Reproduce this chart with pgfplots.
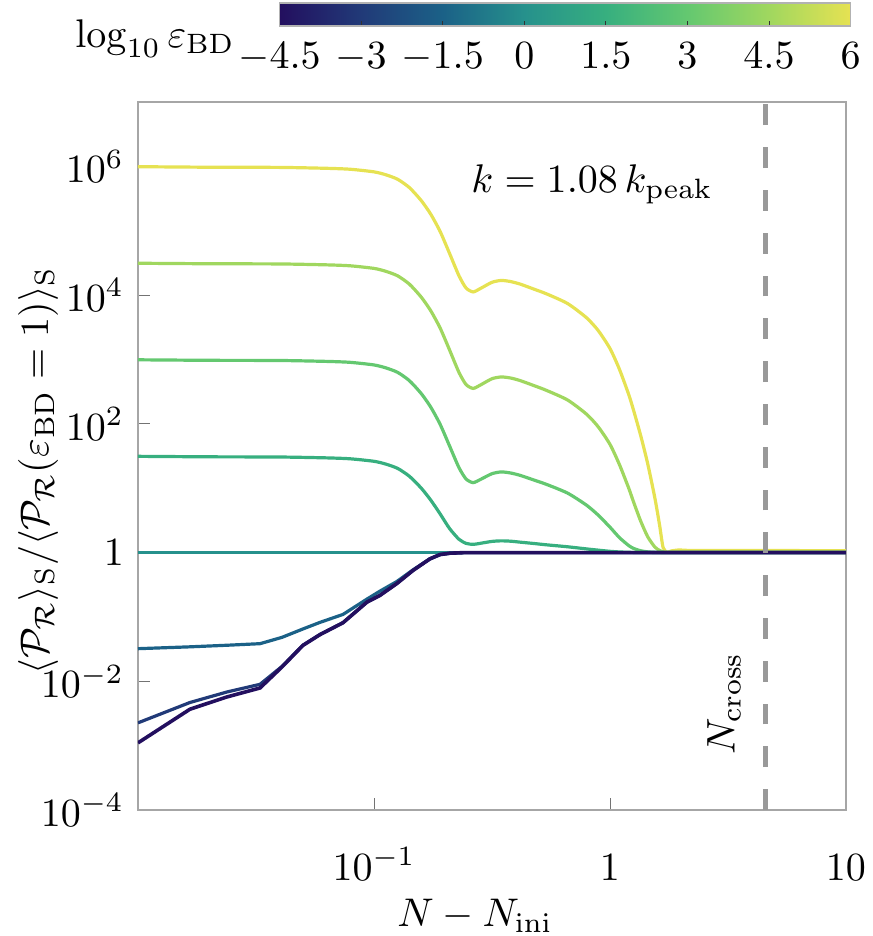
\documentclass[border=0pt]{standalone}
\usepackage{pgfplots}
\pgfplotsset{compat=1.18}
\usepackage{amsmath}
\usetikzlibrary{calc}

% colours of the curves, eps_BD = 10^-4.5 ... 10^6
\definecolor{c0}{RGB}{35,15,95}
\definecolor{c1}{RGB}{33,58,120}
\definecolor{c2}{RGB}{27,97,135}
\definecolor{c3}{RGB}{38,145,140}
\definecolor{c4}{RGB}{55,175,127}
\definecolor{c5}{RGB}{100,200,112}
\definecolor{c6}{RGB}{160,215,95}
\definecolor{c7}{RGB}{230,226,82}

\pgfplotsset{colormap={bgy}{rgb255=(35,15,95) rgb255=(33,58,120) rgb255=(27,97,135)
  rgb255=(38,145,140) rgb255=(55,175,127) rgb255=(100,200,112) rgb255=(160,215,95)
  rgb255=(230,226,82)}}

\begin{document}
\begin{tikzpicture}
\begin{axis}[
    name=main,
    scale only axis,
    width=177pt, height=177pt,
    xmode=log, ymode=log,
    xmin=0.01, xmax=10, ymin=1e-4, ymax=1e7,
    xtick={0.1,1,10},
    xticklabels={$10^{-1}$,$1$,$10$},
    ytick={1e-4,1e-2,1,1e2,1e4,1e6},
    yticklabels={$10^{-4}$,$10^{-2}$,$1$,$10^{2}$,$10^{4}$,$10^{6}$},
    xticklabel style={anchor=base, yshift=-17.5pt},
    minor tick style={draw=none},
    tick align=inside,
    tick pos=left,
    major tick length=3pt,
    major tick style={black!55},
    axis line style={black!35},
    clip mode=individual,
    xlabel={$N - N_{\mathrm{ini}}$},
    xlabel style={at={(axis description cs:0.476,-0.164)}, anchor=base},
    ylabel={$\langle\mathcal{P}_{\mathcal{R}}\rangle_{\mathrm{S}}/\langle\mathcal{P}_{\mathcal{R}}(\varepsilon_{\mathrm{BD}}=1)\rangle_{\mathrm{S}}$},
    ylabel style={at={(axis description cs:-0.141,0.48)}, anchor=center},
    colormap name=bgy,
    point meta min=-4.5, point meta max=6,
    colorbar horizontal,
    colorbar shift/.style={},
    colorbar style={
        at={(parent axis.north west)}, anchor=south west,
        xshift=35.4pt, yshift=19pt,
        width=142.75pt, height=5.75pt,
        xtick={-4.5,-3,-1.5,0,1.5,3,4.5,6},
        xtick pos=left,
        xtick align=inside,
        major tick length=1.3pt,
        major tick style={black!80},
        axis line style={black!30},
        xticklabel style={anchor=base, yshift=-10.65pt},
    },
]

% eps_BD = 10^6
\addplot[c7, line width=0.8pt, smooth, tension=0.4] coordinates {
(0.0100,9.89e5) (0.0200,9.70e5) (0.0398,9.64e5) (0.0631,9.33e5) (0.0794,9.02e5)
(0.1000,8.22e5) (0.1122,7.41e5) (0.1259,6.31e5) (0.1413,4.68e5) (0.1585,2.95e5)
(0.1738,1.82e5) (0.1905,9.82e4) (0.2089,4.47e4) (0.2291,2.00e4) (0.2455,1.29e4)
(0.2630,1.12e4) (0.2818,1.26e4) (0.3162,1.58e4) (0.3467,1.69e4) (0.3802,1.62e4)
(0.4169,1.48e4) (0.4786,1.23e4) (0.5370,1.05e4) (0.6607,7.41e3) (0.7943,4.47e3)
(0.8913,2.82e3) (1.000,1.48e3) (1.096,708) (1.202,282) (1.259,162) (1.349,66)
(1.445,24) (1.549,7.1) (1.622,2.7) (1.679,1.2) (1.746,1.01) (1.820,1.06)
(1.982,1.10) (2.239,1.08) (10,1.07)};

% eps_BD = 10^4.5
\addplot[c6, line width=0.8pt, smooth, tension=0.4] coordinates {
(0.0100,3.126e4) (0.0200,3.069e4) (0.0398,3.048e4) (0.0631,2.951e4) (0.0794,2.851e4)
(0.1000,2.600e4) (0.1122,2.344e4) (0.1259,1.995e4) (0.1413,1.479e4) (0.1585,9.33e3)
(0.1738,5.75e3) (0.1905,3.105e3) (0.2089,1.413e3) (0.2291,631) (0.2455,408)
(0.2630,355) (0.2818,399) (0.3162,502) (0.3467,535) (0.3802,514) (0.4169,469)
(0.4786,390) (0.5370,332) (0.6607,235) (0.7943,142) (0.8913,90) (1.000,48)
(1.096,23.4) (1.202,9.9) (1.259,6.1) (1.349,3.09) (1.445,1.76) (1.549,1.22)
(1.622,1.08) (1.698,1.01) (1.820,1.0) (10,1.0)};

% eps_BD = 10^3
\addplot[c5, line width=0.8pt, smooth, tension=0.4] coordinates {
(0.0100,988) (0.0200,970) (0.0398,964) (0.0631,933) (0.0794,902) (0.1000,822)
(0.1122,741) (0.1259,631) (0.1413,468) (0.1585,296) (0.1738,183) (0.1905,99.1)
(0.2089,45.6) (0.2291,20.9) (0.2455,13.9) (0.2630,12.2) (0.2818,13.6) (0.3162,16.8)
(0.3467,17.9) (0.3802,17.2) (0.4169,15.8) (0.4786,13.3) (0.5370,11.5) (0.6607,8.40)
(0.7943,5.47) (0.8913,3.82) (1.000,2.48) (1.096,1.71) (1.202,1.28) (1.259,1.16)
(1.349,1.066) (1.445,1.024) (1.549,1.007) (1.698,1.0) (10,1.0)};

% eps_BD = 10^1.5
\addplot[c4, line width=0.8pt, smooth, tension=0.4] coordinates {
(0.0100,31.27) (0.0200,30.72) (0.0398,30.51) (0.0631,29.58) (0.0794,28.61)
(0.1000,26.18) (0.1122,23.70) (0.1259,20.32) (0.1413,15.32) (0.1585,10.04)
(0.1738,6.57) (0.1905,4.01) (0.2089,2.37) (0.2291,1.61) (0.2455,1.39) (0.2630,1.34)
(0.2818,1.39) (0.3162,1.49) (0.3467,1.52) (0.3802,1.50) (0.4169,1.45) (0.4786,1.38)
(0.5370,1.32) (0.6607,1.23) (0.7943,1.14) (0.8913,1.09) (1.000,1.045) (1.096,1.022)
(1.202,1.009) (1.259,1.005) (1.349,1.002) (1.445,1.0) (10,1.0)};

% eps_BD = 1
\addplot[c3, line width=0.8pt] coordinates {(0.01,1) (10,1)};

% eps_BD = 10^-1.5
\addplot[c2, line width=0.8pt] coordinates {
(0.0100,3.21e-2) (0.0166,3.43e-2) (0.02382,3.63e-2) (0.03289,3.84e-2) (0.04074,4.81e-2)
(0.0500,6.50e-2) (0.05902,8.22e-2) (0.07396,0.1094) (0.09333,0.189) (0.1059,0.251)
(0.1250,0.355) (0.1462,0.537) (0.1726,0.80) (0.1905,0.93) (0.2099,0.977)
(0.2399,0.997) (10,1)};

% eps_BD = 10^-3
\addplot[c1, line width=0.8pt] coordinates {
(0.0100,2.26e-3) (0.0166,4.68e-3) (0.02382,6.82e-3) (0.03289,8.97e-3) (0.04074,1.70e-2)
(0.0500,3.64e-2) (0.05902,5.33e-2) (0.07396,8.16e-2) (0.09333,0.170) (0.1059,0.216)
(0.1250,0.331) (0.1462,0.527) (0.1726,0.798) (0.1905,0.931) (0.2099,0.977)
(0.2399,0.997) (10,1)};

% eps_BD = 10^-4.5
\addplot[c0, line width=0.9pt] coordinates {
(0.0100,1.104e-3) (0.0166,3.68e-3) (0.02382,5.71e-3) (0.03289,7.87e-3) (0.04074,1.667e-2)
(0.0500,3.61e-2) (0.05902,5.30e-2) (0.07396,8.13e-2) (0.09333,0.1694) (0.1059,0.2153)
(0.1250,0.330) (0.1462,0.526) (0.1726,0.798) (0.1905,0.931) (0.2099,0.977)
(0.2399,0.997) (10,1)};

% N_cross
\addplot[black!40, line width=1.25pt, dash pattern=on 5.2pt off 5.5pt]
    coordinates {(4.58,1e-4) (4.58,1e7)};

\node[rotate=90] at (axis cs:3.04,4.5e-3) {$N_{\mathrm{cross}}$};
\node at (axis cs:0.84,5.2e5) {$k = 1.08\,k_{\mathrm{peak}}$};
\node[anchor=base] at (axis description cs:0.024,1.0763) {$\log_{10}\varepsilon_{\mathrm{BD}}$};
\end{axis}

\pgfresetboundingbox
\path ($(main.south west)+(-34.5pt,-31.5pt)$) rectangle ($(main.north east)+(6.75pt,25.5pt)$);
\end{tikzpicture}
\end{document}
